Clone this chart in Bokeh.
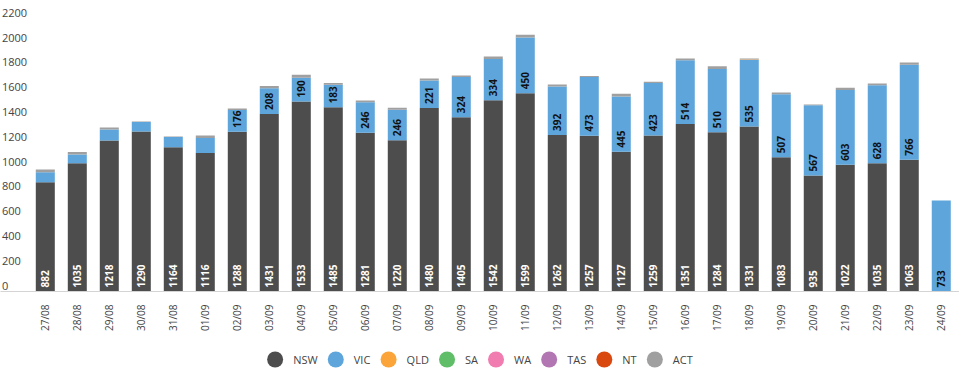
import math
from bokeh.plotting import figure
from bokeh.models import FixedTicker, ColumnDataSource, Range1d
from bokeh.layouts import column
from bokeh.core.properties import value
from bokeh.embed import file_html
from bokeh.resources import INLINE

# ---------------- data ----------------
dates = ["27/08", "28/08", "29/08", "30/08", "31/08", "01/09", "02/09", "03/09",
         "04/09", "05/09", "06/09", "07/09", "08/09", "09/09", "10/09", "11/09",
         "12/09", "13/09", "14/09", "15/09", "16/09", "17/09", "18/09", "19/09",
         "20/09", "21/09", "22/09", "23/09", "24/09"]
nsw = [882, 1035, 1218, 1290, 1164, 1116, 1288, 1431, 1533, 1485, 1281, 1220, 1480, 1405,
       1542, 1599, 1262, 1257, 1127, 1259, 1351, 1284, 1331, 1083, 935, 1022, 1035, 1063, None]
vic = [80, 70, 88, 76, 81, 121, 176, 208, 190, 183, 246, 246, 221, 324,
       334, 450, 392, 473, 445, 423, 514, 510, 535, 507, 567, 603, 628, 766, 733]
qld = [0, 0, 0, 0, 0, 0, 0, 0, 0, 0, 0, 0, 0, 0,
       0, 0, 0, 0, 0, 0, 0, 0, 4, 0, 0, 0, 0, 0, 0]
sa = [0, 0, 0, 0, 0, 0, 0, 0, 0, 0, 0, 0, 0, 0,
      0, 0, 0, 0, 0, 0, 0, 0, 0, 0, 0, 0, 0, 0, 0]
wa = [0, 0, 0, 0, 0, 0, 0, 0, 0, 0, 0, 0, 0, 0,
      0, 0, 0, 0, 0, 0, 0, 0, 0, 0, 0, 0, 0, 0, 0]
tas = [0, 0, 0, 0, 0, 0, 0, 0, 0, 0, 0, 0, 0, 0,
       0, 0, 0, 0, 0, 0, 0, 0, 0, 0, 0, 0, 0, 0, 0]
nt = [0, 0, 0, 0, 0, 0, 0, 0, 0, 0, 0, 0, 0, 0,
      0, 0, 0, 0, 0, 0, 0, 0, 0, 0, 0, 0, 0, 0, 0]
act = [22, 19, 17, 5, 5, 21, 12, 18, 24, 14, 13, 15, 17, 13,
       19, 22, 15, 8, 22, 10, 14, 22, 9, 15, 6, 18, 15, 18, 0]
series_names = ["NSW", "VIC", "QLD", "SA", "WA", "TAS", "NT", "ACT"]
y_ticks = [0, 200, 400, 600, 800, 1000, 1200, 1400, 1600, 1800, 2000, 2200]

# ---------------- styles ----------------
colors = ["#4d4d4d", "#5da5da", "#faa43a", "#60bd68", "#f17cb0", "#b276b2", "#d9480f", "#a0a0a0"]
FONT = "Open Sans"
TXT = "#444444"
VIC_LABEL_MIN = 150
PX_PER_UNIT = 0.124
TOP, FRAME_H, BOTTOM = 4, 287, 49

n = len(dates)
xs = list(range(n))
nsw0 = [v if v is not None else 0 for v in nsw]
data = dict(x=xs, NSW=nsw0, VIC=vic, QLD=qld, SA=sa, WA=wa, TAS=tas, NT=nt, ACT=act)
src = ColumnDataSource(data)

W = 959
p = figure(width=W, height=TOP + FRAME_H + BOTTOM, output_backend="svg", toolbar_location=None,
           x_range=Range1d(-1.4, 28.57), y_range=Range1d(0, FRAME_H / PX_PER_UNIT),
           y_axis_location=None, min_border_left=0, min_border_right=0,
           min_border_top=TOP, min_border_bottom=BOTTOM)
p.outline_line_color = None
p.xgrid.visible = False
p.ygrid.visible = False

p.vbar_stack(series_names, x="x", width=0.594, color=colors, line_color=None, source=src)

# x axis
ax = p.xaxis[0]
ax.ticker = FixedTicker(ticks=xs)
ax.major_label_overrides = {i: d for i, d in enumerate(dates)}
ax.major_label_orientation = math.pi / 2
ax.major_tick_line_color = None
ax.minor_tick_line_color = None
ax.axis_line_color = "#d4d4d4"
ax.major_label_text_font = FONT
ax.major_label_text_font_size = "10px"
ax.major_label_text_color = TXT
ax.major_label_standoff = 7

# y tick labels (left aligned, drawn as text)
ylab = ColumnDataSource(dict(x=[-1.353] * len(y_ticks), y=y_ticks, t=[str(v) for v in y_ticks]))
p.text(x="x", y="y", text="t", source=ylab, text_align="left", text_baseline="middle",
       y_offset=-6, text_font=value(FONT), text_font_size="11px", text_color=TXT)

# data labels
nsw_lab = dict(x=[], y=[], t=[])
vic_lab = dict(x=[], y=[], t=[])
for i in xs:
    if nsw[i] is not None:
        nsw_lab["x"].append(i); nsw_lab["y"].append(0); nsw_lab["t"].append(str(nsw[i]))
    if vic[i] >= VIC_LABEL_MIN:
        vic_lab["x"].append(i); vic_lab["y"].append(nsw0[i]); vic_lab["t"].append(str(vic[i]))

p.text(x="x", y="y", text="t", source=ColumnDataSource(nsw_lab), angle=math.pi / 2,
       text_align="left", text_baseline="middle", y_offset=-4,
       text_font=value(FONT), text_font_size="10px", text_font_style="bold", text_color="white")
p.text(x="x", y="y", text="t", source=ColumnDataSource(vic_lab), angle=math.pi / 2,
       text_align="left", text_baseline="middle", y_offset=-4,
       text_font=value(FONT), text_font_size="10px", text_font_style="bold", text_color="#111111")

# ---------------- legend (separate strip) ----------------
LH = 30
lg = figure(width=W, height=LH, output_backend="svg", toolbar_location=None,
            x_range=Range1d(0, W), y_range=Range1d(0, LH),
            x_axis_type=None, y_axis_type=None, min_border=0)
lg.outline_line_color = None

char_w = {"N": 0.76, "S": 0.55, "W": 0.93, "V": 0.62, "I": 0.28, "C": 0.63, "Q": 0.78,
          "L": 0.52, "D": 0.74, "A": 0.63, "T": 0.56}
fs = 11
tw = [sum(char_w.get(c, 0.6) for c in s) * fs for s in series_names]
R, TO, GAP = 8, 18, 10
total = sum(TO + R + w for w in tw) + GAP * (len(series_names) - 1)
cur = W / 2 - total / 2
cx, tx = [], []
for w in tw:
    cx.append(cur + R)
    tx.append(cur + R + TO)
    cur = cur + R + TO + w + GAP
ly = LH - 19
lg.scatter(x=cx, y=[ly] * len(cx), size=16, color=colors, line_color=None)
lg.text(x=tx, y=[ly] * len(tx), text=series_names, text_align="left", text_baseline="middle",
        text_font=value(FONT), text_font_size="11px", text_color=TXT)

layout = column(p, lg, spacing=0)
open("out.html", "w").write(file_html(layout, INLINE))
